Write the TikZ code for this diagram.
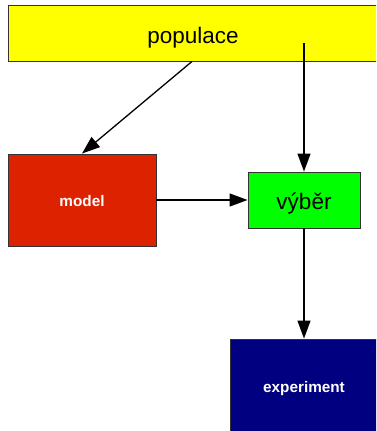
\documentclass[tikz,border=0pt]{standalone}
\usepackage{fontspec}
\setmainfont{Liberation Sans}
\usetikzlibrary{arrows.meta}
\definecolor{popyellow}{HTML}{FFFF00}
\definecolor{modelred}{HTML}{DD2200}
\definecolor{selgreen}{HTML}{00FF00}
\definecolor{expnavy}{HTML}{000080}
\definecolor{edgegray}{HTML}{333333}
\tikzset{
  box/.style={draw=edgegray, line width=0.9pt, rectangle, inner sep=0pt},
  bigtext/.style={font=\fontsize{22.5}{26}\selectfont, text=black, anchor=base},
  smalltext/.style={font=\bfseries\fontsize{15.3}{18}\selectfont, text=white, anchor=base},
  link/.style={line width=1.3pt, -{Triangle[length=18pt,width=13pt]}}
}
\begin{document}
\begin{tikzpicture}[x=1pt,y=-1pt]
  \useasboundingbox (0,0) rectangle (376,431);
  \clip (0,0) rectangle (376,431);
  % boxes
  \node[box, fill=popyellow, minimum width=370pt, minimum height=56pt] (pop) at (193,33) {};
  \node[box, fill=modelred, minimum width=148pt, minimum height=92pt] (model) at (82,200) {};
  \node[box, fill=selgreen, minimum width=112pt, minimum height=56pt] (vyber) at (304,200) {};
  \node[box, fill=expnavy, minimum width=148pt, minimum height=96pt] (exp) at (304,387) {};
  % labels, placed by their baselines
  \node[bigtext] (poplabel) at (193,43) {populace};
  \node[bigtext] (vyberlabel) at (304,209) {výběr};
  \node[smalltext] (modellabel) at (82,206) {model};
  \node[smalltext] (explabel) at (304,392) {experiment};
  \coordinate (drop) at (304,43);
  % connectors
  \draw[link] (pop.south -| 192,0) -- (model.north);
  \draw[link] (drop) -- (vyber.north);
  \draw[link] (model.east) -- (vyber.west);
  \draw[link] (vyber.south) -- (exp.north);
\end{tikzpicture}
\end{document}
